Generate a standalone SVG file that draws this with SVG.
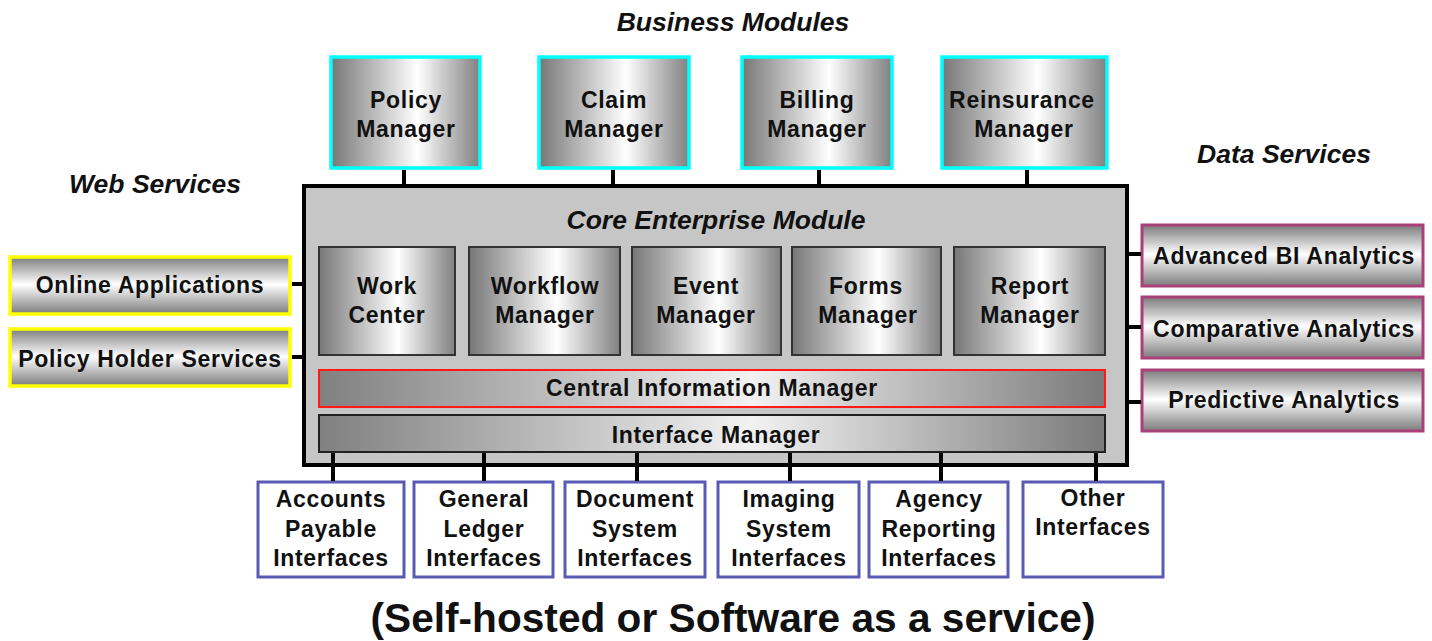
<svg xmlns="http://www.w3.org/2000/svg" width="1432" height="641" viewBox="0 0 1432 641">
  <defs>
    <!-- metallic fills: horizontal for square modules and bars, vertical for service bars -->
    <linearGradient id="gMetalH" x1="0" y1="0" x2="1" y2="0">
      <stop offset="0" stop-color="#777777"/>
      <stop offset="0.58" stop-color="#ffffff"/>
      <stop offset="1" stop-color="#808080"/>
    </linearGradient>
    <linearGradient id="gBar" x1="0" y1="0" x2="1" y2="0">
      <stop offset="0" stop-color="#808080"/>
      <stop offset="0.55" stop-color="#f2f2f2"/>
      <stop offset="1" stop-color="#7a7a7a"/>
    </linearGradient>
    <linearGradient id="gMetalV" x1="0" y1="0" x2="0" y2="1">
      <stop offset="0" stop-color="#7c7c7c"/>
      <stop offset="0.48" stop-color="#ffffff"/>
      <stop offset="1" stop-color="#7c7c7c"/>
    </linearGradient>
    <style>
      text { font-family: "Liberation Sans", Arial, sans-serif; font-weight: bold; fill: #111; text-anchor: middle; }
      .lbl { font-size: 23px; letter-spacing: 0.7px; }
      .head { font-size: 26.5px; font-style: italic; }
      .foot { font-size: 40px; }
      .biz { fill: url(#gMetalH); stroke: #00ffff; stroke-width: 3.5; }
      .core { fill: #c6c6c6; stroke: #000; stroke-width: 4; }
      .inner { fill: url(#gMetalH); stroke: #333; stroke-width: 2; }
      .cim { fill: url(#gBar); stroke: #ff1a1a; stroke-width: 2; }
      .ifm { fill: url(#gBar); stroke: #222; stroke-width: 2; }
      .web { fill: url(#gMetalV); stroke: #ffff00; stroke-width: 3.5; }
      .data { fill: url(#gMetalV); stroke: #a8407a; stroke-width: 3; }
      .ext { fill: #ffffff; stroke: #5a5ab4; stroke-width: 3; }
      .conn line { stroke: #000; stroke-width: 4; }
    </style>
  </defs>

  <rect width="1432" height="641" fill="#ffffff"/>

  <!-- section headings -->
  <text class="head" x="733" y="31">Business Modules</text>
  <text class="head" x="155" y="193">Web Services</text>
  <text class="head" x="1284" y="163">Data Services</text>

  <!-- business modules -->
  <g id="policy-manager">
    <rect class="biz" x="331" y="57" width="149" height="111"/>
    <text class="lbl" x="406" y="108">Policy</text>
    <text class="lbl" x="406" y="137">Manager</text>
  </g>
  <g id="claim-manager">
    <rect class="biz" x="539" y="57" width="150" height="111"/>
    <text class="lbl" x="614" y="108">Claim</text>
    <text class="lbl" x="614" y="137">Manager</text>
  </g>
  <g id="billing-manager">
    <rect class="biz" x="742" y="57" width="150" height="111"/>
    <text class="lbl" x="817" y="108">Billing</text>
    <text class="lbl" x="817" y="137">Manager</text>
  </g>
  <g id="reinsurance-manager">
    <rect class="biz" x="942" y="57" width="165" height="111"/>
    <text class="lbl" x="1022" y="108">Reinsurance</text>
    <text class="lbl" x="1024" y="137">Manager</text>
  </g>

  <!-- core enterprise module -->
  <g id="core-enterprise-module">
    <rect class="core" x="304" y="186" width="823" height="279"/>
    <text class="head" x="716" y="229">Core Enterprise Module</text>
  </g>
  <g id="work-center">
    <rect class="inner" x="319" y="247" width="136" height="108"/>
    <text class="lbl" x="387" y="294">Work</text>
    <text class="lbl" x="387" y="323">Center</text>
  </g>
  <g id="workflow-manager">
    <rect class="inner" x="469" y="247" width="151" height="108"/>
    <text class="lbl" x="545" y="294">Workflow</text>
    <text class="lbl" x="545" y="323">Manager</text>
  </g>
  <g id="event-manager">
    <rect class="inner" x="632" y="247" width="149" height="108"/>
    <text class="lbl" x="706" y="294">Event</text>
    <text class="lbl" x="706" y="323">Manager</text>
  </g>
  <g id="forms-manager">
    <rect class="inner" x="792" y="247" width="149" height="108"/>
    <text class="lbl" x="866" y="294">Forms</text>
    <text class="lbl" x="868" y="323">Manager</text>
  </g>
  <g id="report-manager">
    <rect class="inner" x="954" y="247" width="151" height="108"/>
    <text class="lbl" x="1030" y="294">Report</text>
    <text class="lbl" x="1030" y="323">Manager</text>
  </g>
  <g id="central-information-manager">
    <rect class="cim" x="319" y="370" width="786" height="37"/>
    <text class="lbl" x="712" y="396">Central Information Manager</text>
  </g>
  <g id="interface-manager">
    <rect class="ifm" x="319" y="415" width="786" height="37"/>
    <text class="lbl" x="716" y="443">Interface Manager</text>
  </g>

  <!-- web services -->
  <g id="online-applications">
    <rect class="web" x="10" y="257" width="280" height="57"/>
    <text class="lbl" x="150" y="293">Online Applications</text>
  </g>
  <g id="policy-holder-services">
    <rect class="web" x="10" y="329" width="280" height="57"/>
    <text class="lbl" x="150" y="367">Policy Holder Services</text>
  </g>

  <!-- data services -->
  <g id="advanced-bi-analytics">
    <rect class="data" x="1142" y="225" width="281" height="61"/>
    <text class="lbl" x="1284" y="264">Advanced BI Analytics</text>
  </g>
  <g id="comparative-analytics">
    <rect class="data" x="1142" y="297" width="281" height="61"/>
    <text class="lbl" x="1284" y="337">Comparative Analytics</text>
  </g>
  <g id="predictive-analytics">
    <rect class="data" x="1142" y="370" width="281" height="61"/>
    <text class="lbl" x="1284" y="408">Predictive Analytics</text>
  </g>

  <!-- external interfaces -->
  <g id="accounts-payable-interfaces">
    <rect class="ext" x="258" y="482" width="146" height="95"/>
    <text class="lbl" x="331" y="507">Accounts</text>
    <text class="lbl" x="331" y="537">Payable</text>
    <text class="lbl" x="331" y="566">Interfaces</text>
  </g>
  <g id="general-ledger-interfaces">
    <rect class="ext" x="414" y="482" width="139" height="95"/>
    <text class="lbl" x="484" y="507">General</text>
    <text class="lbl" x="484" y="537">Ledger</text>
    <text class="lbl" x="484" y="566">Interfaces</text>
  </g>
  <g id="document-system-interfaces">
    <rect class="ext" x="565" y="482" width="140" height="95"/>
    <text class="lbl" x="635" y="507">Document</text>
    <text class="lbl" x="635" y="537">System</text>
    <text class="lbl" x="635" y="566">Interfaces</text>
  </g>
  <g id="imaging-system-interfaces">
    <rect class="ext" x="718" y="482" width="141" height="95"/>
    <text class="lbl" x="789" y="507">Imaging</text>
    <text class="lbl" x="789" y="537">System</text>
    <text class="lbl" x="789" y="566">Interfaces</text>
  </g>
  <g id="agency-reporting-interfaces">
    <rect class="ext" x="869" y="482" width="139" height="95"/>
    <text class="lbl" x="939" y="507">Agency</text>
    <text class="lbl" x="939" y="537">Reporting</text>
    <text class="lbl" x="939" y="566">Interfaces</text>
  </g>
  <g id="other-interfaces">
    <rect class="ext" x="1023" y="482" width="140" height="95"/>
    <text class="lbl" x="1093" y="506">Other</text>
    <text class="lbl" x="1093" y="535">Interfaces</text>
  </g>

  <!-- connectors -->
  <g id="connectors" class="conn">
    <line x1="404" y1="170" x2="404" y2="186"/>
    <line x1="613" y1="170" x2="613" y2="186"/>
    <line x1="819" y1="170" x2="819" y2="186"/>
    <line x1="1027" y1="170" x2="1027" y2="186"/>
    <line x1="292" y1="284" x2="304" y2="284"/>
    <line x1="292" y1="357" x2="304" y2="357"/>
    <line x1="1127" y1="254" x2="1141" y2="254"/>
    <line x1="1127" y1="327" x2="1141" y2="327"/>
    <line x1="1127" y1="402" x2="1141" y2="402"/>
    <line x1="333" y1="453" x2="333" y2="481"/>
    <line x1="484" y1="453" x2="484" y2="481"/>
    <line x1="637" y1="453" x2="637" y2="481"/>
    <line x1="790" y1="453" x2="790" y2="481"/>
    <line x1="941" y1="453" x2="941" y2="481"/>
    <line x1="1096" y1="453" x2="1096" y2="481"/>
  </g>

  <text class="foot" x="733" y="632" textLength="725" lengthAdjust="spacingAndGlyphs">(Self-hosted or Software as a service)</text>
</svg>
